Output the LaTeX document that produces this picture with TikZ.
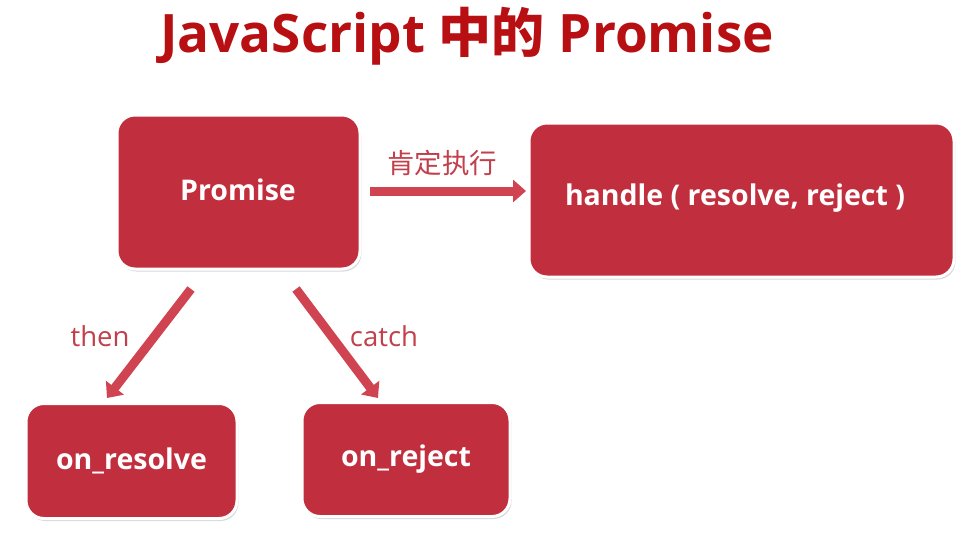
\documentclass[tikz,border=0pt]{standalone}
\usepackage{fontspec}
\setmainfont{Open Sans}
\newfontfamily\cjk{Noto Sans CJK SC}
\usetikzlibrary{arrows.meta,shadows}
\definecolor{boxred}{HTML}{C12E3D}
\definecolor{arrred}{HTML}{CF4450}
\definecolor{titred}{HTML}{B80F12}
\definecolor{labred}{HTML}{C2404C}
\begin{document}
\begin{tikzpicture}[x=1pt,y=-1pt,
  box/.style={draw=white,line width=3pt,fill=boxred,rounded corners=18pt,
    drop shadow={opacity=0.3,shadow xshift=1.5pt,shadow yshift=-2.5pt},
    text=white,font=\fontsize{28.5}{32}\selectfont\bfseries,inner sep=0pt},
  boxtext/.style={text=white,font=\fontsize{28.5}{32}\selectfont\bfseries,inner sep=0pt},
  fatarrow/.style={draw=arrred,line width=9pt,
    -{Triangle[length=13pt,width=22pt]}},
  lab/.style={text=labred,font=\fontsize{27.5}{32}\selectfont,inner sep=0pt}]
\useasboundingbox (0,0) rectangle (977,538);
\fill[white] (0,0) rectangle (977,538);
\node[text=titred,font=\fontsize{53}{60}\selectfont\bfseries] (title) at (467,36)
  {JavaScript {\cjk\bfseries 中的} Promise};
\node[box,minimum width=243pt,minimum height=154pt] (p) at (238.5,192) {};
\node[boxtext] (pt) at (238,190) {Promise};
\node[box,minimum width=425pt,minimum height=154pt] (h) at (741.5,200) {};
\node[boxtext] (ht) at (735,198) {handle ( resolve, reject )};
\node[box,minimum width=211pt,minimum height=115pt] (r) at (131.5,461) {on\_resolve};
\node[box,minimum width=208pt,minimum height=114pt] (j) at (406,459.5) {on\_reject};
\coordinate (a1s) at (370,191);
\coordinate (a1e) at (526,191);
\draw[fatarrow] (a1s) -- (a1e);
\coordinate (a2s) at (191,289);
\coordinate (a2e) at (107,398);
\draw[fatarrow] (a2s) -- (a2e);
\coordinate (a3s) at (296,289);
\coordinate (a3e) at (378,398);
\draw[fatarrow] (a3s) -- (a3e);
\node[lab,font=\cjk\fontsize{27.5}{32}\selectfont] (l1) at (442,163) {肯定执行};
\node[lab] (l2) at (100,336) {then};
\node[lab] (l3) at (384,336) {catch};
\end{tikzpicture}
\end{document}
